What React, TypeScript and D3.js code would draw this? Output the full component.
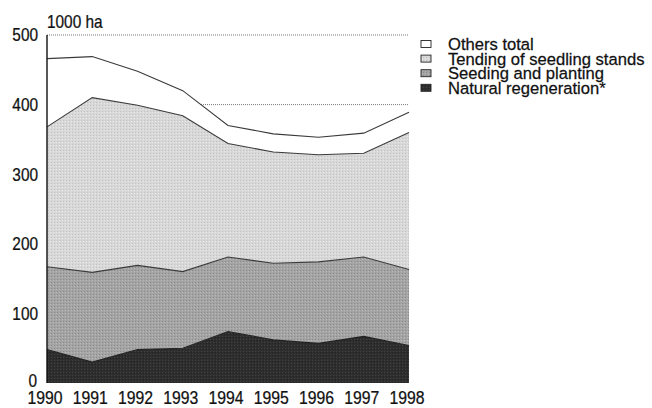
import React from "react";
import * as d3 from "d3";

const years = [1990, 1991, 1992, 1993, 1994, 1995, 1996, 1997, 1998];
const natural = [48, 30, 48, 50, 74, 62, 57, 67, 54];
const seeding = [119, 129, 121, 110, 107, 110, 117, 114, 109];
const tending = [201, 251, 230, 224, 163, 160, 154, 149, 197];
const others = [98, 59, 49, 36, 26, 26, 25, 29, 29];
const yTicks = [0, 100, 200, 300, 400, 500];
const seriesKeys = ["natural", "seeding", "tending", "others"];
const legendLabels = ["Others total", "Tending of seedling stands", "Seeding and planting", "Natural regeneration*"];
const legendKeys = ["others", "tending", "seeding", "natural"];

const fills: Record<string, string> = {
  natural: "url(#pNat)",
  seeding: "url(#pSeed)",
  tending: "url(#pTend)",
  others: "#ffffff",
};

const FONT = "'Liberation Sans', Arial, sans-serif";

function CText(props: {
  x: number;
  y: number;
  size: number;
  anchor?: string;
  sx?: number;
  children: React.ReactNode;
}) {
  const sx = props.sx ?? 0.88;
  return (
    <text
      transform={`translate(${props.x},${props.y}) scale(${sx},1)`}
      textAnchor={props.anchor || "start"}
      dominantBaseline="central"
      fontFamily={FONT}
      fontSize={props.size}
      fill="#111"
      stroke="#111"
      strokeWidth={0.25}
    >
      {props.children}
    </text>
  );
}

export default function App() {
  const W = 652, H = 408;
  const x = d3.scaleLinear().domain([1990, 1998]).range([47, 409]);
  const y = d3.scaleLinear().domain([0, 500]).range([383, 35]);
  const rows = years.map((yr, i) => ({
    year: yr,
    natural: natural[i],
    seeding: seeding[i],
    tending: tending[i],
    others: others[i],
  }));
  const stack = d3.stack<any>().keys(seriesKeys);
  const layers = stack(rows);
  const area = d3
    .area<any>()
    .x((d) => x(d.data.year))
    .y0((d) => y(d[0]))
    .y1((d) => y(d[1]));
  const topLine = d3
    .line<any>()
    .x((d) => x(d.data.year))
    .y((d) => y(d[1]));

  return (
    <svg width={W} height={H} style={{ position: "absolute", left: 0, top: 0, background: "#fff" }}>
      <defs>
        <pattern id="pTend" width="3" height="3" patternUnits="userSpaceOnUse">
          <rect width="3" height="3" fill="#d8d8d8" />
          <rect x="0" y="0" width="1" height="1" fill="#c2c2c2" />
          <rect x="2" y="1" width="1" height="1" fill="#e8e8e8" />
        </pattern>
        <pattern id="pSeed" width="3" height="3" patternUnits="userSpaceOnUse">
          <rect width="3" height="3" fill="#a4a4a4" />
          <rect x="0" y="0" width="1" height="1" fill="#8a8a8a" />
          <rect x="2" y="1" width="1" height="1" fill="#b8b8b8" />
        </pattern>
        <pattern id="pNat" width="3" height="3" patternUnits="userSpaceOnUse">
          <rect width="3" height="3" fill="#2e2e2e" />
          <rect x="0" y="0" width="1" height="1" fill="#424242" />
          <rect x="2" y="1" width="1" height="1" fill="#222" />
        </pattern>
      </defs>

      {/* gridlines */}
      {yTicks
        .filter((t) => t > 0)
        .map((t) => (
          <line
            key={"g" + t}
            x1={x(1990)}
            x2={x(1998)}
            y1={y(t)}
            y2={y(t)}
            stroke="#555"
            strokeWidth={0.8}
            strokeDasharray="1,1"
          />
        ))}

      {/* areas */}
      {layers.map((layer) => (
        <path key={layer.key} d={area(layer) || ""} fill={fills[layer.key]} stroke="none" />
      ))}
      {layers.map((layer) => (
        <path
          key={"l" + layer.key}
          d={topLine(layer) || ""}
          fill="none"
          stroke={layer.key === "natural" ? "#222" : "#3a3a3a"}
          strokeWidth={1.1}
        />
      ))}

      {/* y axis */}
      <line x1={x(1990)} x2={x(1990)} y1={y(500)} y2={y(0)} stroke="#111" strokeWidth={1.4} />
      {yTicks.map((t) => (
        <CText key={"t" + t} x={t === 0 ? 37 : 38} y={t === 0 ? y(t) - 2 : y(t)} size={17.5} anchor="end">
          {t}
        </CText>
      ))}
      <CText x={47} y={22} size={17.5}>
        1000 ha
      </CText>

      {/* x labels */}
      {years.map((yr) => (
        <CText key={"x" + yr} x={x(yr) - 2} y={398} size={17.5} anchor="middle" sx={0.9}>
          {yr}
        </CText>
      ))}

      {/* legend */}
      {legendKeys.map((k, i) => (
        <g key={"lg" + k}>
          <rect
            x={421}
            y={44 + i * 14.6 - 3.5}
            width={10}
            height={7}
            fill={fills[k]}
            stroke="#222"
            strokeWidth={0.9}
          />
          <CText x={448} y={44.5 + i * 14.6} size={17.3} sx={0.96}>
            {legendLabels[i]}
          </CText>
        </g>
      ))}
    </svg>
  );
}
